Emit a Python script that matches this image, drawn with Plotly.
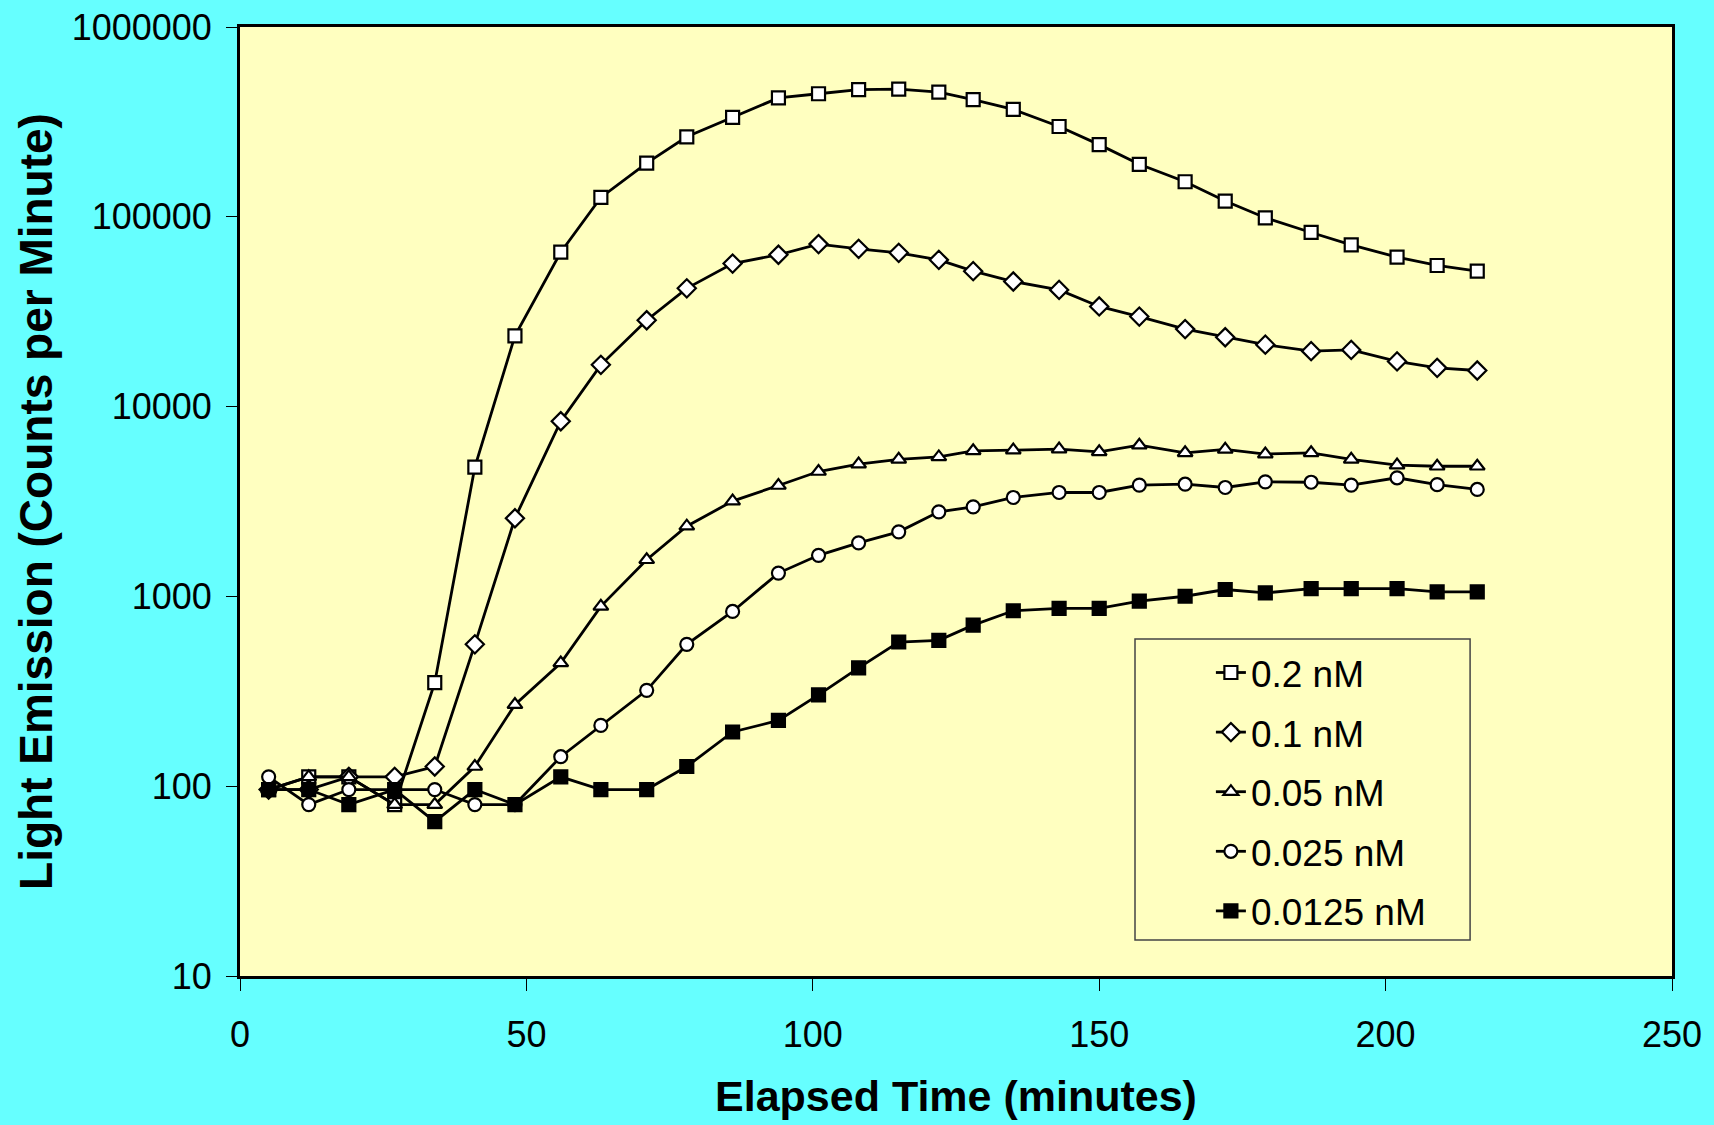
import plotly.graph_objects as go

times = [5, 12, 19, 27, 34, 41, 48, 56, 63, 71, 78, 86, 94, 101, 108, 115, 122, 128,
         135, 143, 150, 157, 165, 172, 179, 187, 194, 202, 209, 216]

s_02 = [96, 112, 112, 80, 351, 4800, 23600, 65100, 126500, 192000, 264000, 334000,
        423000, 445000, 468000, 471000, 454000, 414000, 368000, 299000, 240000, 189000,
        153000, 121000, 98800, 82700, 71200, 61300, 55400, 51700]
s_01 = [96, 96, 112, 112, 127, 559, 2580, 8370, 16600, 28500, 42000, 56700, 63100,
        71800, 67800, 64600, 59300, 51700, 45600, 41200, 33700, 29800, 25600, 23200,
        21200, 19600, 19900, 17300, 16000, 15500]
s_005 = [96, 112, 112, 80, 80, 127, 269, 446, 886, 1560, 2344, 3176, 3840, 4550, 4980,
         5270, 5430, 5850, 5900, 5970, 5780, 6260, 5710, 5950, 5620, 5710, 5270, 4920,
         4850, 4850]
s_0025 = [112, 80, 96, 96, 96, 80, 80, 143, 209, 320, 559, 833, 1327, 1646, 1915, 2188,
          2789, 2963, 3320, 3528, 3528, 3855, 3900, 3748, 4015, 3995, 3855, 4216, 3880,
          3660]
s_00125 = [96, 96, 80, 96, 65, 96, 80, 112, 96, 96, 127, 193, 222, 303, 420, 575, 587,
           706, 840, 865, 865, 945, 1002, 1087, 1043, 1100, 1100, 1100, 1057, 1057]

names = ["0.2 nM", "0.1 nM", "0.05 nM", "0.025 nM", "0.0125 nM"]
series = [s_02, s_01, s_005, s_0025, s_00125]
symbols = ["square", "diamond", "triangle-up", "circle", "square"]
fills = ["white", "white", "white", "white", "black"]
sizes = [13, 14, 13, 13, 13]

y_ticks = [10, 100, 1000, 10000, 100000, 1000000]
y_tick_text = ["10", "100", "1000", "10000", "100000", "1000000"]
x_ticks = [0, 50, 100, 150, 200, 250]

FONT = "Liberation Sans, Arial, sans-serif"

fig = go.Figure()
for i, (name, ys, sym, fc, sz) in enumerate(zip(names, series, symbols, fills, sizes)):
    fig.add_trace(go.Scatter(
        x=times, y=ys, name=name, mode="lines+markers", legendgroup="g%d" % i,
        line=dict(color="black", width=2.8),
        marker=dict(symbol=sym, size=sz, color=fc, line=dict(color="black", width=2.2)),
    ))

# legend frame (plot-area paper coordinates)
fig.add_shape(type="rect", xref="paper", yref="paper",
              x0=0.625, x1=0.859, y0=0.038, y1=0.355,
              line=dict(color="#444444", width=1.5), fillcolor="rgba(0,0,0,0)", layer="above")

fig.update_layout(
    width=1714, height=1125,
    paper_bgcolor="#66FFFF", plot_bgcolor="#FFFFC0",
    margin=dict(l=240, r=42, t=27, b=149, autoexpand=False),
    font=dict(family=FONT, color="black"),
    showlegend=True,
    legend=dict(
        x=0.678, y=0.352, xanchor="left", yanchor="top",
        bgcolor="rgba(0,0,0,0)", borderwidth=0, tracegroupgap=8.5,
        font=dict(size=37, family=FONT), traceorder="grouped",
    ),
    xaxis=dict(
        range=[0, 250], tickvals=x_ticks, ticks="outside", ticklen=12, tickwidth=1,
        tickcolor="black", showgrid=False, zeroline=False, automargin=False,
        showline=True, linecolor="black", linewidth=3, mirror=True,
        tickfont=dict(size=36, family=FONT), ticklabelstandoff=13,
        title=dict(text="<b>Elapsed Time (minutes)</b>", font=dict(size=43, family=FONT), standoff=27),
    ),
    yaxis=dict(
        type="log", range=[1, 6], tickvals=y_ticks, ticktext=y_tick_text,
        ticks="outside", ticklen=11, tickwidth=1, tickcolor="black",
        showgrid=False, zeroline=False, automargin=False,
        showline=True, linecolor="black", linewidth=3, mirror=True,
        tickfont=dict(size=36, family=FONT), ticklabelstandoff=7,
        title=dict(text="<b>Light Emission (Counts per Minute)</b>", font=dict(size=46, family=FONT), standoff=5),
    ),
    xaxis2=dict(
        overlaying="x", range=[0, 250], tickvals=x_ticks, ticks="inside", ticklen=13,
        tickwidth=1, tickcolor="black", showticklabels=False, showgrid=False,
        zeroline=False, showline=False, side="bottom",
    ),
    yaxis2=dict(
        overlaying="y", type="log", range=[1, 6], tickvals=y_ticks, ticks="inside",
        ticklen=12, tickwidth=1, tickcolor="black", showticklabels=False,
        showgrid=False, zeroline=False, showline=False, side="left",
    ),
)

fig.write_html(
    "out.html",
    config={"displayModeBar": False},
    post_script="document.body.style.margin='0px';document.body.style.background='#66FFFF';",
)
